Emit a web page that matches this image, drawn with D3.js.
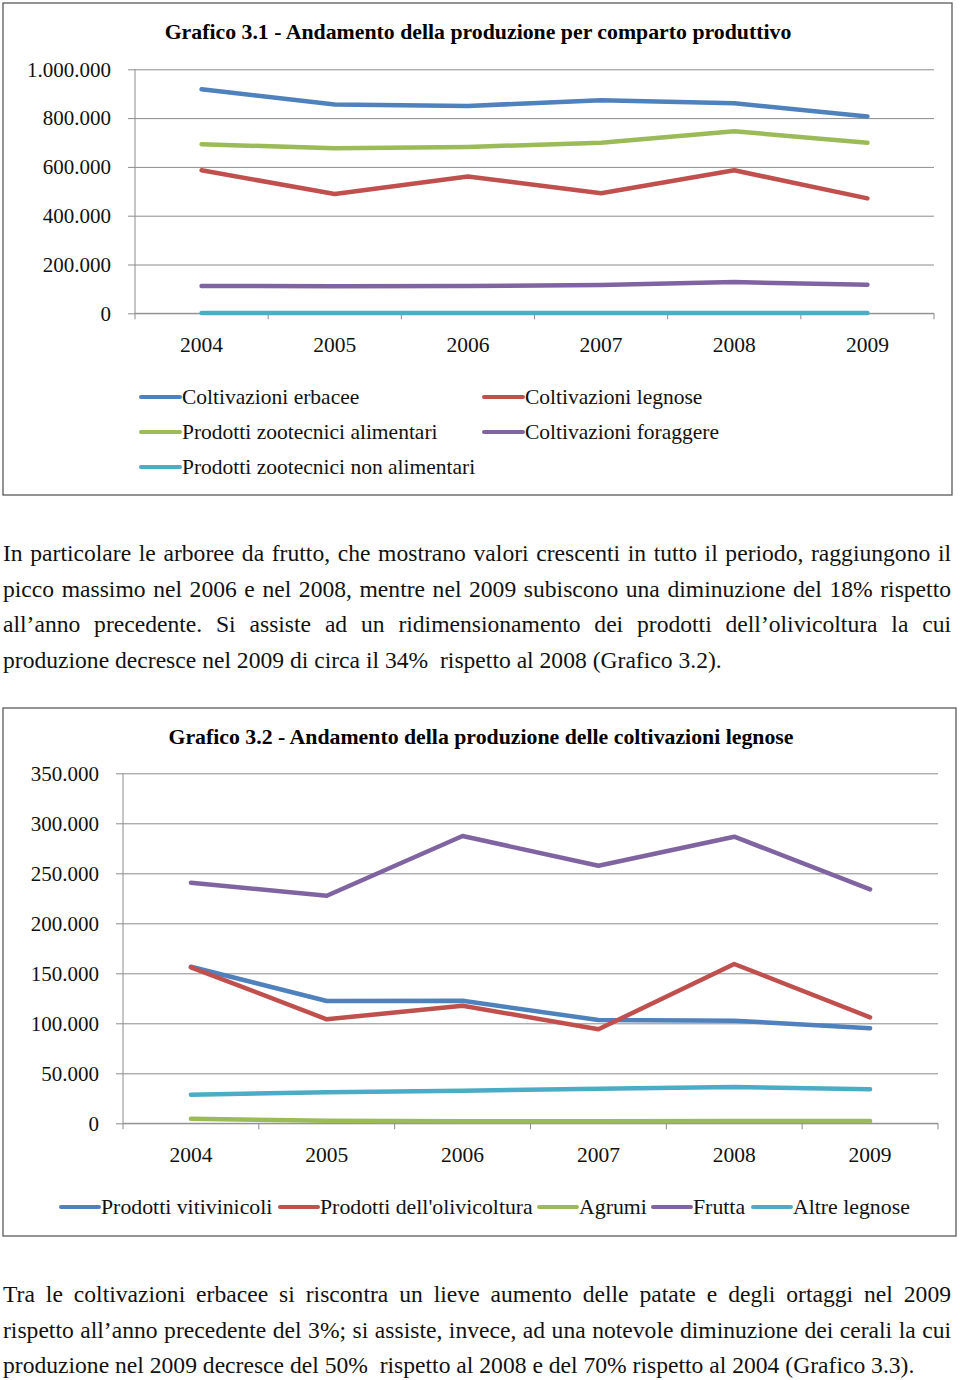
<!DOCTYPE html>
<html><head><meta charset="utf-8">
<script src="https://cdn.jsdelivr.net/npm/d3@7"></script>
<style>
body{margin:0;background:#fff;}
#wrap{position:relative;width:960px;height:1380px;overflow:hidden;}
svg{position:absolute;left:0;top:0;}
.line{position:absolute;left:3px;width:948px;font-family:"Liberation Serif","Times New Roman",serif;font-size:23.6px;color:#111;white-space:nowrap;line-height:26px;}
.j{text-align:justify;text-align-last:justify;white-space:normal;}
</style></head>
<body><div id="wrap"></div>
<script>
// ---- Chart 3.1 data ----
const years = ["2004","2005","2006","2007","2008","2009"];
const erbacee      = [918000, 856000, 850000, 873000, 861000, 807000];
const legnose      = [586000, 489000, 561000, 492000, 586000, 471000];
const zooAlim      = [693000, 676000, 682000, 699000, 746000, 699000];
const foraggere    = [112000, 111000, 112000, 116000, 128000, 117000];
const zooNonAlim   = [1500, 1500, 1500, 1500, 1500, 1500];
const ticks1 = [0, 200000, 400000, 600000, 800000, 1000000];
const ticks1Labels = ["0","200.000","400.000","600.000","800.000","1.000.000"];

// ---- Chart 3.2 data ----
const vitivinicoli = [156600, 122300, 122600, 103300, 102600, 95000];
const olivicoltura = [156000, 104000, 117600, 94000, 159300, 106000];
const agrumi       = [4600, 2600, 2000, 2000, 2300, 2300];
const frutta       = [240600, 227600, 287300, 257600, 286600, 234000];
const altreLegnose = [28600, 31000, 32600, 34600, 36300, 34000];
const ticks2 = [0, 50000, 100000, 150000, 200000, 250000, 300000, 350000];
const ticks2Labels = ["0","50.000","100.000","150.000","200.000","250.000","300.000","350.000"];

const C = {blue:"#4F81BD", red:"#C0504D", green:"#9BBB59", purple:"#8064A2", cyan:"#4BACC6"};
const FONT = "'Liberation Serif','Times New Roman',serif";

const wrap = d3.select("#wrap");
const svg = wrap.append("svg").attr("width",960).attr("height",1380);

function chart(cfg){
  const g = svg.append("g");
  g.append("rect").attr("x",cfg.frame[0]).attr("y",cfg.frame[1]).attr("width",cfg.frame[2]).attr("height",cfg.frame[3])
    .attr("fill","#fff").attr("stroke","#5a5a5a").attr("stroke-width",1.3);
  g.append("text").attr("x",cfg.titleX).attr("y",cfg.titleY).attr("text-anchor","middle").attr("dominant-baseline","central")
    .attr("font-family",FONT).attr("font-weight","bold").attr("font-size",21.8).attr("fill","#000").text(cfg.title);
  const x = d3.scaleBand().domain(years).range([cfg.x0,cfg.x1]);
  const y = d3.scaleLinear().domain([0,cfg.ymax]).range([cfg.y0,cfg.y1]);
  const yAxis = d3.axisLeft(y).tickValues(cfg.ticks).tickSize(-(cfg.x1-cfg.x0)).tickFormat((d,i)=>cfg.tickLabels[i]);
  const ya = g.append("g").attr("transform",`translate(${cfg.x0},0)`).call(yAxis);
  ya.select(".domain").remove();
  ya.selectAll(".tick line").attr("stroke","#8c8c8c").attr("x1",-7);
  ya.selectAll(".tick text").attr("x",cfg.labelX - cfg.x0).attr("font-family",FONT).attr("font-size",21).attr("fill","#111");
  g.append("line").attr("x1",cfg.x0).attr("x2",cfg.x0).attr("y1",cfg.y1).attr("y2",cfg.y0).attr("stroke","#8c8c8c");
  const xa = g.append("g").attr("transform",`translate(0,${cfg.y0})`);
  xa.append("line").attr("x1",cfg.x0).attr("x2",cfg.x1).attr("stroke","#8c8c8c");
  const bounds = years.map(d=>x(d)).concat([cfg.x1]);
  xa.selectAll("line.tk").data(bounds).enter().append("line").attr("class","tk")
    .attr("x1",d=>d).attr("x2",d=>d).attr("y1",0).attr("y2",6).attr("stroke","#8c8c8c");
  xa.selectAll("text").data(years).enter().append("text")
    .attr("x",d=>x(d)+x.bandwidth()/2).attr("y",cfg.yearY-cfg.y0).attr("text-anchor","middle").attr("dominant-baseline","central")
    .attr("font-family",FONT).attr("font-size",21.5).attr("fill","#111").text(d=>d);
  const line = d3.line().x((d,i)=>x(years[i])+x.bandwidth()/2).y(d=>y(d));
  cfg.series.forEach(s=>{
    g.append("path").datum(s.values).attr("d",line).attr("fill","none").attr("stroke",s.color)
      .attr("stroke-width",4.5).attr("stroke-linejoin","round").attr("stroke-linecap","round");
  });
  cfg.series.forEach(s=>{
    const [lx,ly,lw] = s.leg;
    g.append("line").attr("x1",lx).attr("x2",lx+lw).attr("y1",ly).attr("y2",ly).attr("stroke",s.color).attr("stroke-width",4).attr("stroke-linecap","round");
    g.append("text").attr("x",lx+lw+2).attr("y",ly).attr("dominant-baseline","central").attr("font-family",FONT).attr("font-size",cfg.legFont).attr("fill","#111").text(s.name);
  });
}

chart({
  frame:[3,3,949,492], title:"Grafico 3.1 - Andamento della produzione per comparto produttivo", titleX:478, titleY:32,
  x0:135, x1:934, y0:313.3, y1:69.3, ymax:1000000, ticks:ticks1, tickLabels:ticks1Labels, labelX:111, yearY:345, legFont:21.5,
  series:[
    {name:"Coltivazioni erbacee", values:erbacee, color:C.blue, leg:[141,397,39]},
    {name:"Coltivazioni legnose", values:legnose, color:C.red, leg:[484,397,39]},
    {name:"Prodotti zootecnici alimentari", values:zooAlim, color:C.green, leg:[141,432,39]},
    {name:"Coltivazioni foraggere", values:foraggere, color:C.purple, leg:[484,432,39]},
    {name:"Prodotti zootecnici non alimentari", values:zooNonAlim, color:C.cyan, leg:[141,467,39]}
  ]
});

chart({
  frame:[3,708,953,528], title:"Grafico 3.2 - Andamento della produzione delle coltivazioni legnose", titleX:481, titleY:737,
  x0:123, x1:938, y0:1123.3, y1:773.3, ymax:350000, ticks:ticks2, tickLabels:ticks2Labels, labelX:99, yearY:1155, legFont:21.8,
  series:[
    {name:"Prodotti vitivinicoli", values:vitivinicoli, color:C.blue, leg:[61,1207,38]},
    {name:"Prodotti dell'olivicoltura", values:olivicoltura, color:C.red, leg:[280,1207,38]},
    {name:"Agrumi", values:agrumi, color:C.green, leg:[539,1207,38]},
    {name:"Frutta", values:frutta, color:C.purple, leg:[653,1207,38]},
    {name:"Altre legnose", values:altreLegnose, color:C.cyan, leg:[753,1207,38]}
  ]
});

const para1 = [
  ["In particolare le arboree da frutto, che mostrano valori crescenti in tutto il periodo, raggiungono il", true],
  ["picco massimo nel 2006 e nel 2008, mentre nel 2009 subiscono una diminuzione del 18% rispetto", true],
  ["all\u2019anno precedente. Si assiste ad un ridimensionamento dei prodotti dell\u2019olivicoltura la cui", true],
  ["produzione decresce nel 2009 di circa il 34%  rispetto al 2008 (Grafico 3.2).", false]
];
const para2 = [
  ["Tra le coltivazioni erbacee si riscontra un lieve aumento delle patate e degli ortaggi nel 2009", true],
  ["rispetto all\u2019anno precedente del 3%; si assiste, invece, ad una notevole diminuzione dei cerali la cui", true],
  ["produzione nel 2009 decresce del 50%  rispetto al 2008 e del 70% rispetto al 2004 (Grafico 3.3).", false]
];
function para(lines, top){
  lines.forEach((l,i)=>{
    wrap.append("div").attr("class","line"+(l[1]?" j":"")).style("top",(top+i*35.5-13)+"px")
      .style("white-space", l[1] ? "normal" : "pre").text(l[0]);
  });
}
para(para1, 553);
para(para2, 1294);
</script></body></html>
